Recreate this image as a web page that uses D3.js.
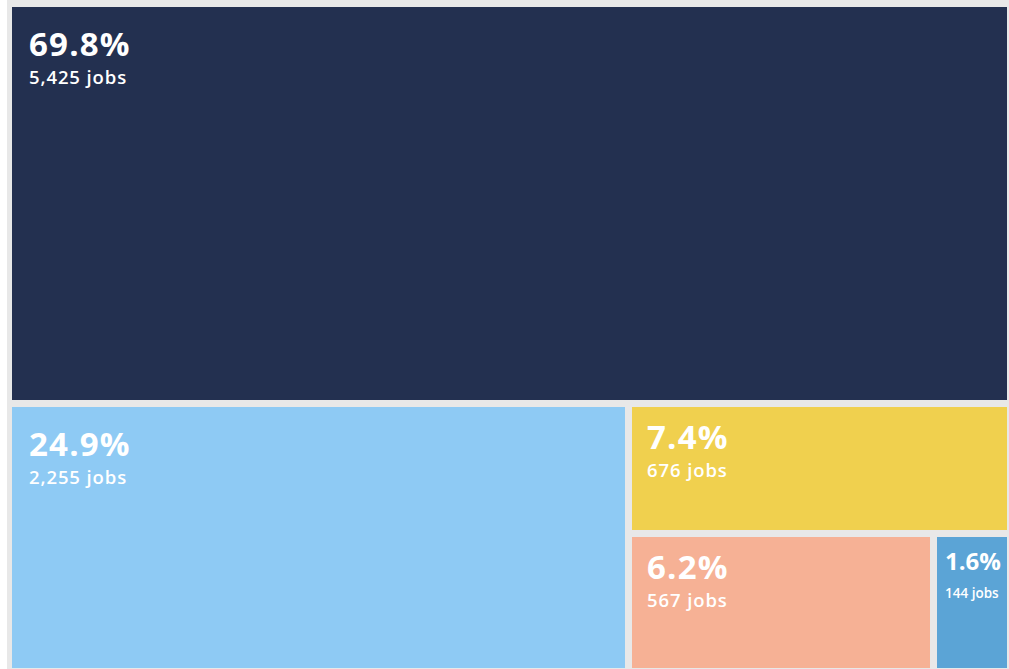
<!DOCTYPE html>
<html>
<head>
<meta charset="utf-8">
<script src="https://cdn.jsdelivr.net/npm/d3@7"></script>
<style>
  html, body { margin: 0; padding: 0; background: #ffffff; }
  svg { display: block; }
  text { font-family: "Open Sans", "Lato", sans-serif; fill: #ffffff; }
</style>
</head>
<body>
<svg id="chart" width="1009" height="669"></svg>
<script>
const categories = ["A", "B", "C", "D", "E"];
const jobs = [5425, 2255, 676, 567, 144];
const percentLabels = ["69.8%", "24.9%", "7.4%", "6.2%", "1.6%"];
const jobLabels = ["5,425 jobs", "2,255 jobs", "676 jobs", "567 jobs", "144 jobs"];
const colors = ["#233050", "#8ecaf4", "#f0d04e", "#f6b195", "#5ba4d6"];

const svg = d3.select("#chart");
svg.append("rect").attr("x", 7).attr("y", 0).attr("width", 1002).attr("height", 669).attr("fill", "#e8e8e8");

// nested grouping reproduces the alternating split of the reference
const leaf = i => ({ name: categories[i], value: jobs[i], i });
const data = { children: [ leaf(0), { children: [ leaf(1), { children: [ leaf(2), { children: [ leaf(3), leaf(4) ] } ] } ] } ] };
const root = d3.hierarchy(data).sum(d => d.value || 0);

d3.treemap()
  .tile((node, x0, y0, x1, y1) => (node.depth & 1 ? d3.treemapDice : d3.treemapSlice)(node, x0, y0, x1, y1))
  .size([995, 661])
  .paddingInner(7)
  .round(true)(root);

const g = svg.append("g").attr("transform", "translate(12,7)");
const leaves = g.selectAll("g.leaf").data(root.leaves()).join("g")
  .attr("class", "leaf")
  .attr("transform", d => `translate(${d.x0},${d.y0})`);

leaves.append("rect")
  .attr("width", d => d.x1 - d.x0)
  .attr("height", d => d.y1 - d.y0)
  .attr("fill", d => colors[d.data.i]);

leaves.each(function(d) {
  const w = d.x1 - d.x0, h = d.y1 - d.y0;
  const sel = d3.select(this);
  let px, py, big, small, gap, ls1, ls2;
  if (w < 100) { px = 8; py = 33; big = 24; small = 13.5; gap = 28; ls1 = 0; ls2 = 0; }
  else if (h > 200) { px = 17; py = 49; big = 33; small = 18.5; gap = 28; ls1 = 1.2; ls2 = 0.9; }
  else { px = 15; py = 42; big = 33; small = 18.5; gap = 28; ls1 = 1.2; ls2 = 0.9; }
  sel.append("text").attr("x", px).attr("y", py)
    .attr("font-size", big).attr("font-weight", 700)
    .attr("letter-spacing", ls1)
    .text(percentLabels[d.data.i]);
  sel.append("text").attr("x", px).attr("y", py + gap)
    .attr("font-size", small).attr("font-weight", 600)
    .attr("letter-spacing", ls2)
    .text(jobLabels[d.data.i]);
});
</script>
</body>
</html>
